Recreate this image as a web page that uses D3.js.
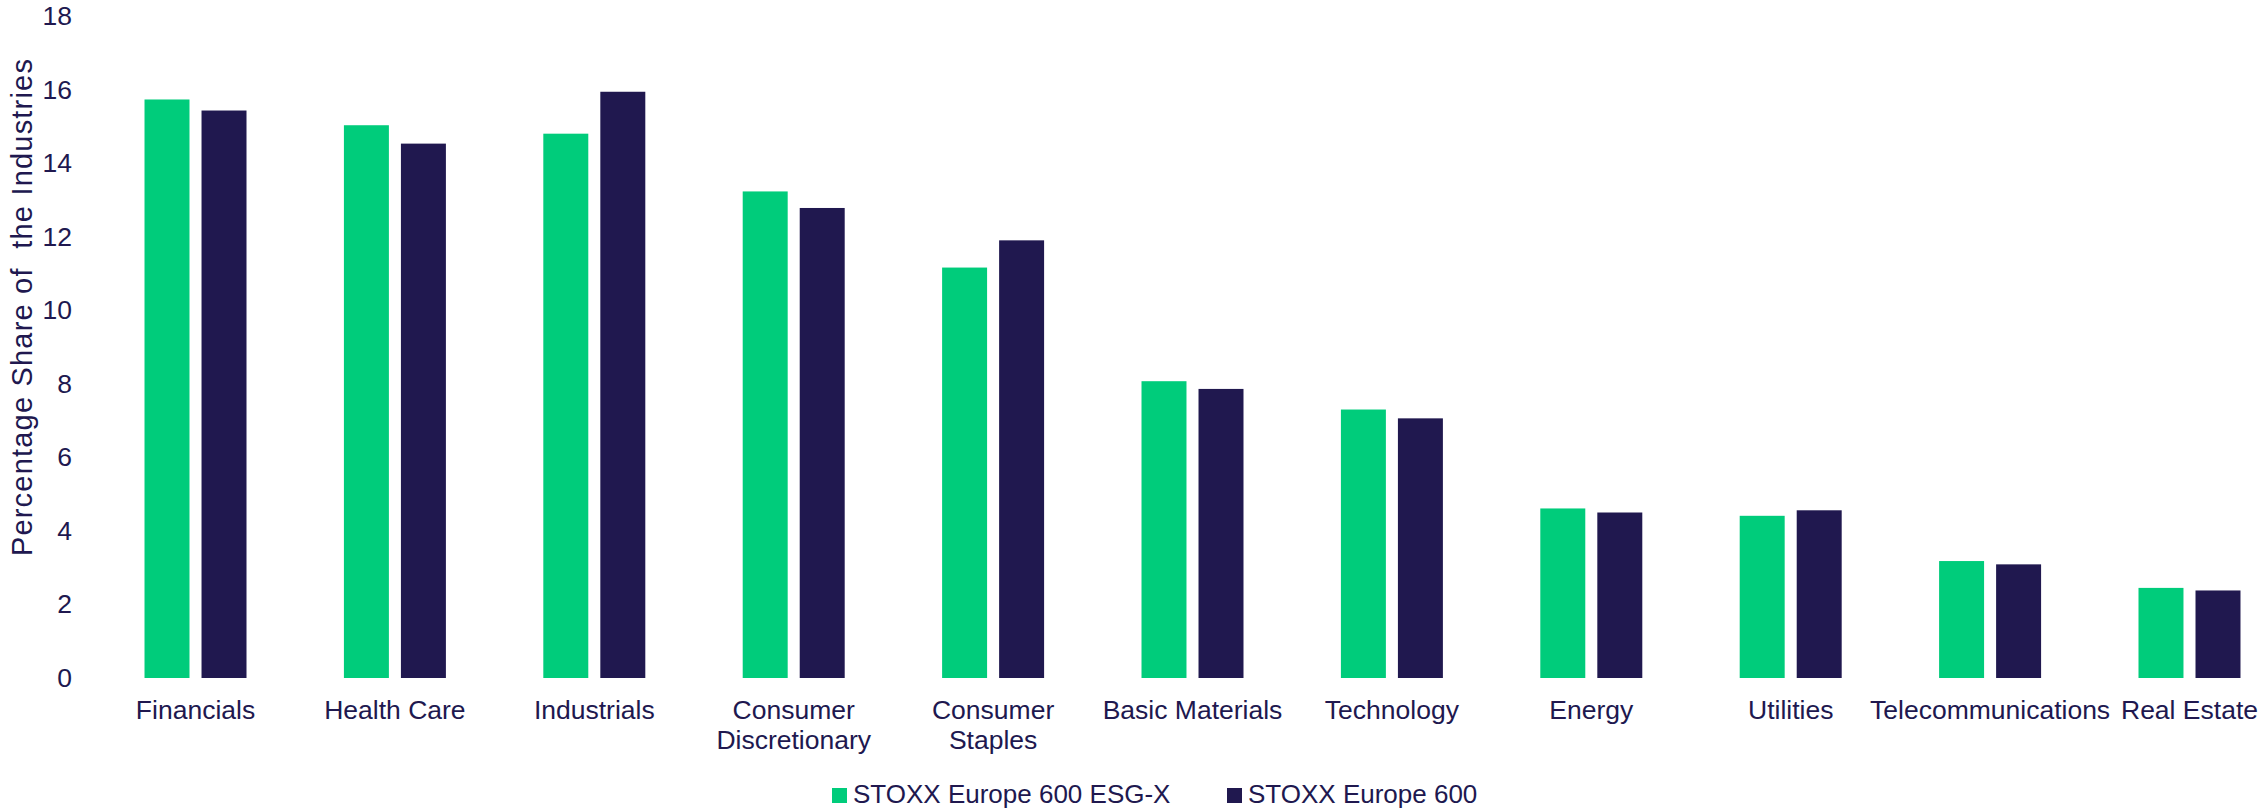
<!DOCTYPE html>
<html>
<head>
<meta charset="utf-8">
<script src="https://cdn.jsdelivr.net/npm/d3@7"></script>
<style>
  html, body { margin: 0; padding: 0; background: #ffffff; }
  svg { display: block; }
  text { font-family: "Liberation Sans", Arial, sans-serif; fill: #20184f; }
</style>
</head>
<body>
<script>
const categories = ["Financials", "Health Care", "Industrials", "Consumer Discretionary", "Consumer Staples", "Basic Materials", "Technology", "Energy", "Utilities", "Telecommunications", "Real Estate"];
const seriesNames = ["STOXX Europe 600 ESG-X", "STOXX Europe 600"];
const esgX = [15.73, 15.03, 14.80, 13.23, 11.16, 8.07, 7.30, 4.61, 4.41, 3.18, 2.45];
const stoxx600 = [15.43, 14.53, 15.94, 12.78, 11.90, 7.86, 7.06, 4.50, 4.56, 3.09, 2.38];
const yTicks = [0, 2, 4, 6, 8, 10, 12, 14, 16, 18];
const yTitle = "Percentage Share of  the Industries";
const colors = ["#00cc7b", "#20184f"];

const W = 2267, H = 808;
const svg = d3.select("body").append("svg").attr("width", W).attr("height", H);

const x0 = d3.scaleBand().domain(categories).range([95.8, 2289.2]).paddingInner(0.4885).paddingOuter(0.2443);
const x1 = d3.scaleBand().domain(seriesNames).range([0, x0.bandwidth()]).paddingInner(0.211);
const y = d3.scaleLinear().domain([0, 18]).range([678, 16]);

const values = [esgX, stoxx600];
const rows = categories.map((c, i) => ({ cat: c, vals: seriesNames.map((s, j) => ({ s, v: values[j][i], j })) }));

const groups = svg.append("g").selectAll("g").data(rows).join("g")
  .attr("transform", d => `translate(${x0(d.cat)},0)`);
groups.selectAll("rect").data(d => d.vals).join("rect")
  .attr("x", d => x1(d.s))
  .attr("width", x1.bandwidth())
  .attr("y", d => y(d.v))
  .attr("height", d => y(0) - y(d.v))
  .attr("fill", d => colors[d.j]);

// Y axis (labels only)
const yAxis = d3.axisLeft(y).tickValues(yTicks).tickSize(0).tickPadding(0).tickFormat(d3.format("d"));
const yg = svg.append("g").attr("transform", "translate(72,0)").call(yAxis);
yg.select(".domain").remove();
yg.selectAll("text").attr("font-size", "26.5px").attr("fill", "#20184f")
  .style("font-family", '"Liberation Sans", Arial, sans-serif');

// X axis (labels only, wrapped)
const xAxis = d3.axisBottom(x0).tickSize(0).tickFormat("");
const xg = svg.append("g").attr("transform", `translate(0,${y(0)})`).call(xAxis);
xg.select(".domain").remove();
const wrapMap = { "Consumer Discretionary": ["Consumer", "Discretionary"], "Consumer Staples": ["Consumer", "Staples"] };
xg.selectAll(".tick").each(function(d) {
  const lines = wrapMap[d] || [d];
  const t = d3.select(this).append("text")
    .attr("text-anchor", "middle")
    .attr("font-size", "26.5px")
    .attr("fill", "#20184f")
    .style("font-family", '"Liberation Sans", Arial, sans-serif');
  lines.forEach((l, i) => {
    t.append("tspan").attr("x", 0).attr("y", 41 + i * 29.5).text(l);
  });
});

// Y title
svg.append("text")
  .attr("transform", `translate(32,307) rotate(-90)`)
  .attr("text-anchor", "middle")
  .attr("font-size", "29px")
  .attr("letter-spacing", "1.2px")
  .style("white-space", "pre")
  .attr("xml:space", "preserve")
  .text(yTitle);

// Legend
const legendX = [832, 1227];
const lg = svg.append("g").selectAll("g").data(seriesNames).join("g")
  .attr("transform", (d, i) => `translate(${legendX[i]},0)`);
lg.append("rect").attr("x", 0).attr("y", 788).attr("width", 15).attr("height", 15)
  .attr("fill", (d, i) => colors[i]);
lg.append("text").attr("x", 21).attr("y", 803).attr("font-size", "26px").text(d => d);
</script>
</body>
</html>
